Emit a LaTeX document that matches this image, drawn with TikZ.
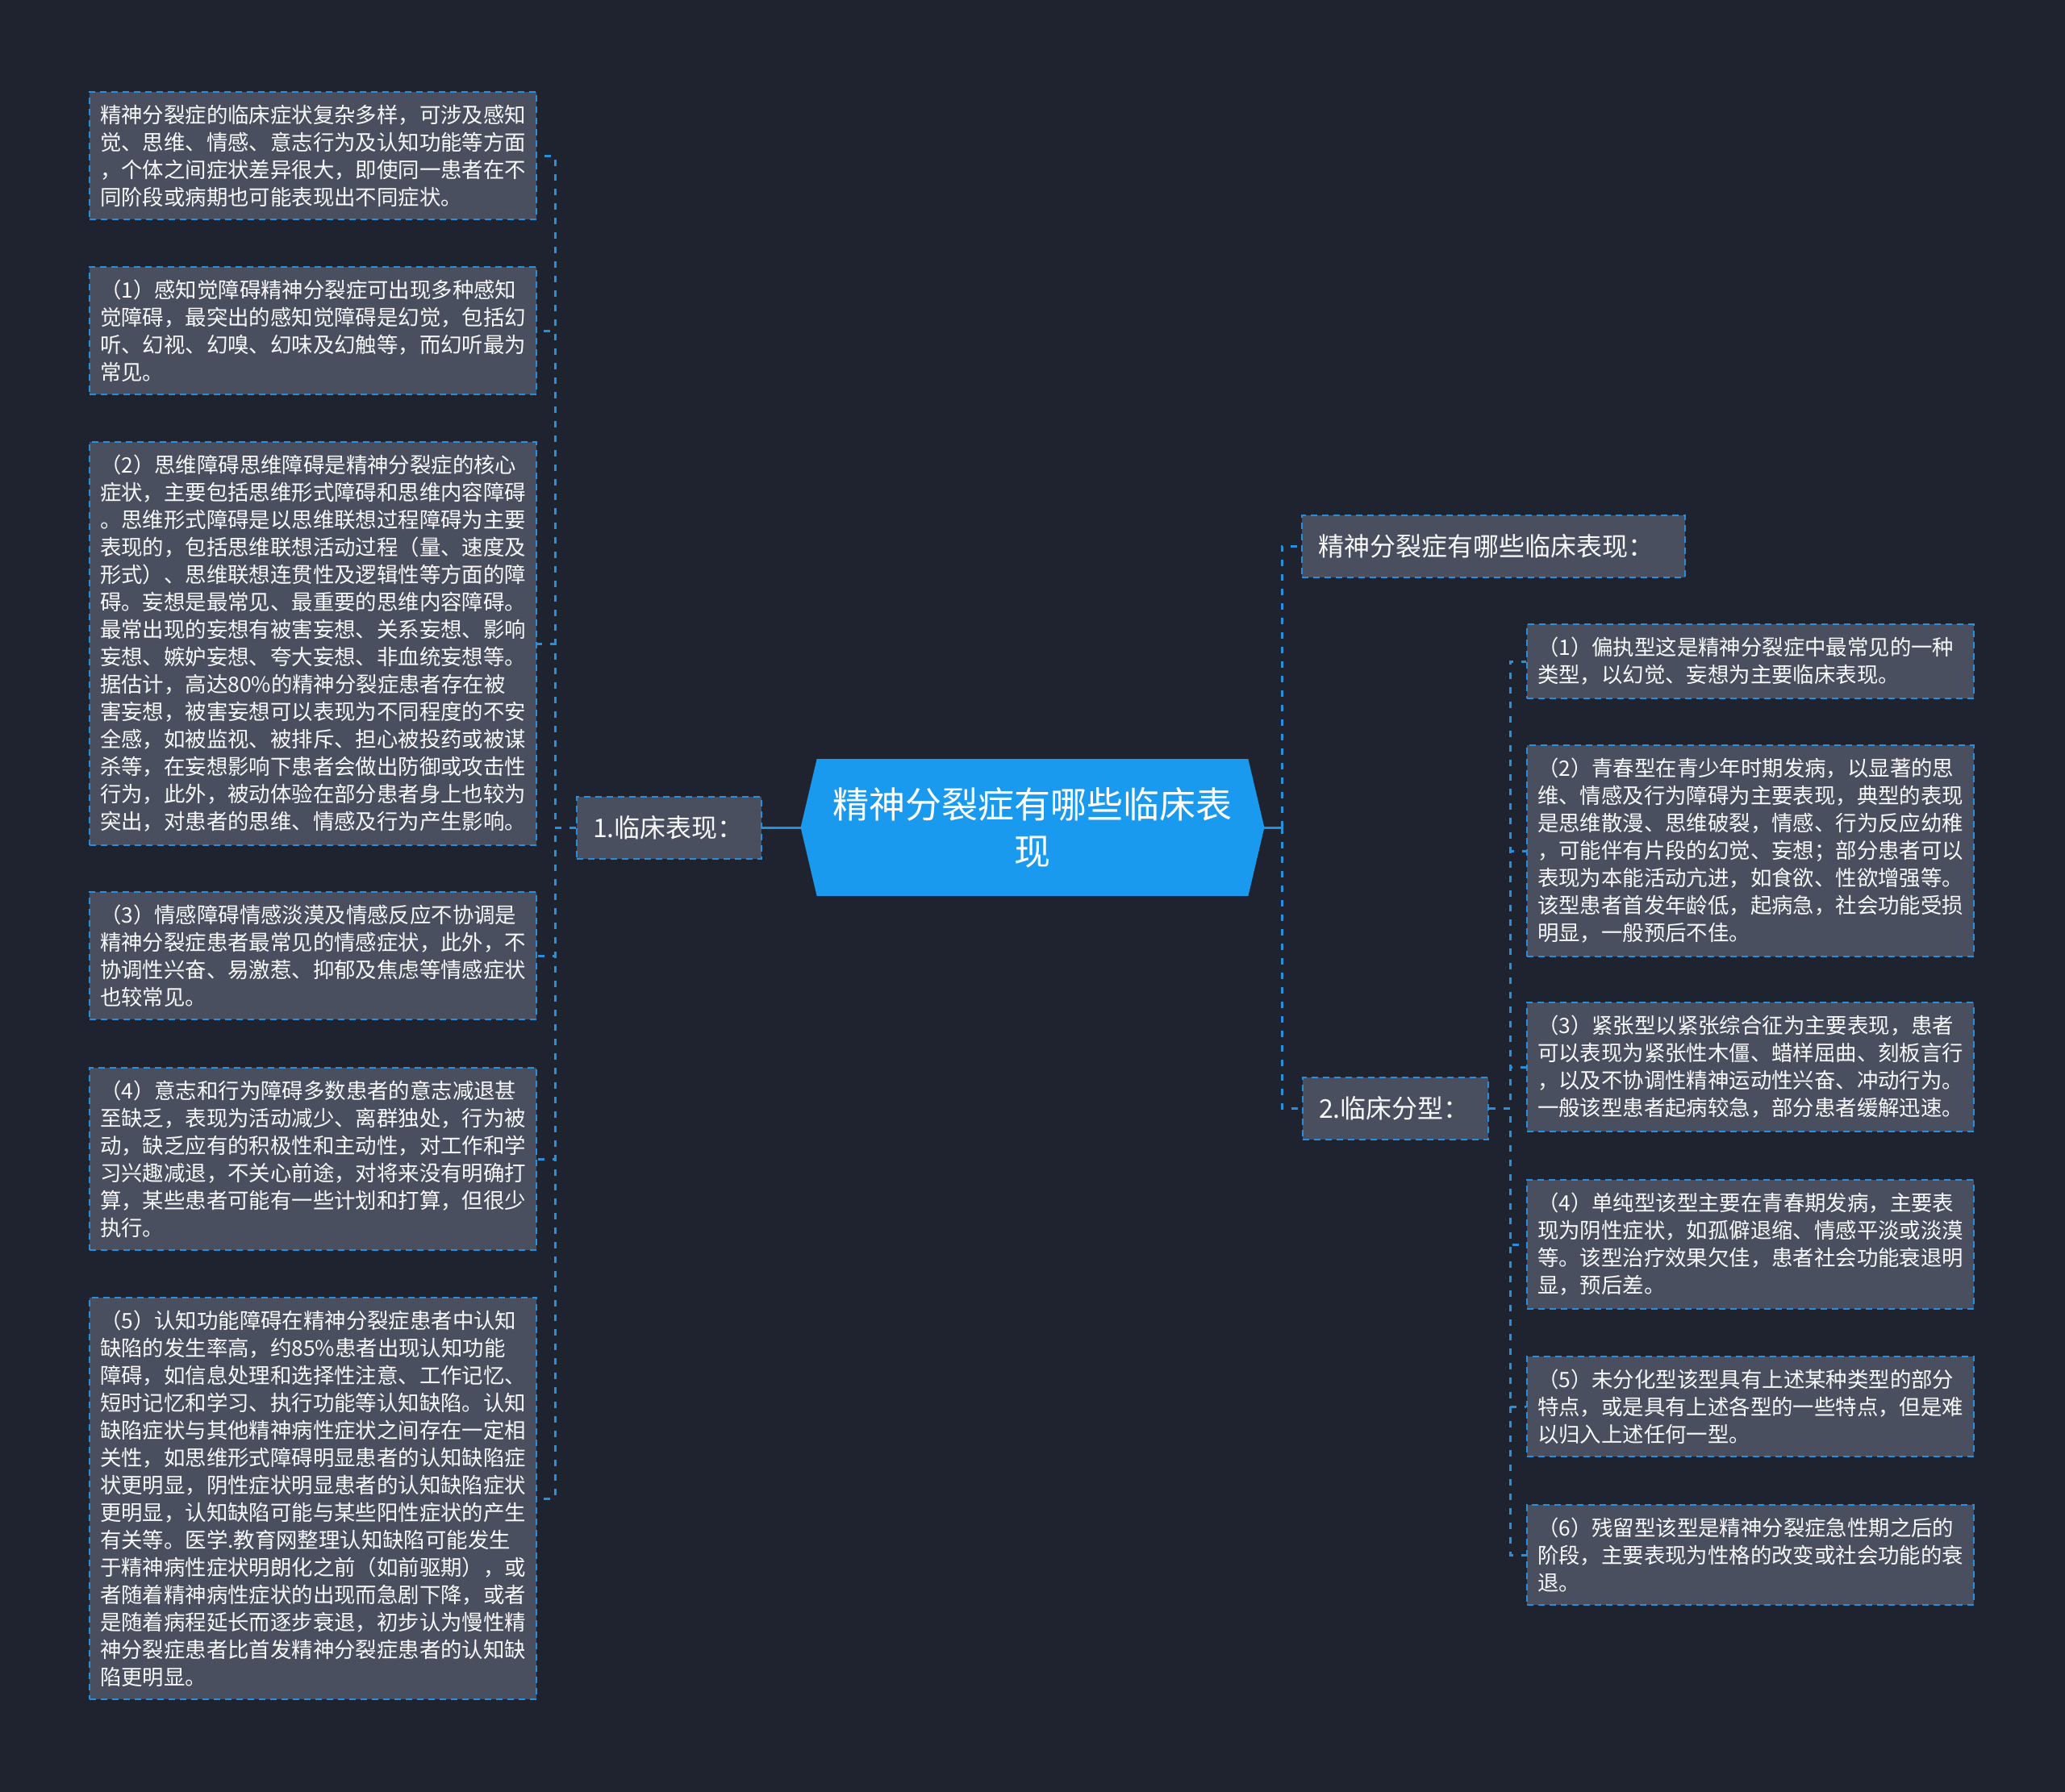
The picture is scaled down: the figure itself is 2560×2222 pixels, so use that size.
\documentclass[tikz,border=0pt]{standalone}
\usepackage{fontspec}
\setmainfont{Noto Sans CJK SC}
\usetikzlibrary{backgrounds}
\begin{document}
\begin{tikzpicture}[x=0.5pt,y=-0.5pt,
  leaf/.style={draw=linecolor,dash pattern=on 4pt off 3pt,line width=1pt,fill=boxcolor,text=textcolor,font=\fontsize{13.2pt}{17pt}\selectfont,align=left,text width=264pt,inner xsep=6.5pt,inner ysep=8pt},
  topic/.style={draw=linecolor,dash pattern=on 4pt off 3pt,line width=1pt,fill=boxcolor,text=textcolor,font=\fontsize{16pt}{20pt}\selectfont,align=left,inner xsep=10pt,minimum height=38.5pt},
  rootbox/.style={text=white,font=\fontsize{22.5pt}{29pt}\selectfont,align=center,minimum width=267pt,minimum height=84.5pt,inner sep=0pt},
  link/.style={draw=linecolor,line width=1.5pt,dash pattern=on 4pt off 5pt},
  rootlink/.style={draw=linecolor,line width=1.5pt}]
\definecolor{bgcolor}{RGB}{31,35,47}
\definecolor{boxcolor}{RGB}{73,79,94}
\definecolor{linecolor}{RGB}{38,143,222}
\definecolor{rootcolor}{RGB}{26,154,238}
\definecolor{textcolor}{RGB}{248,248,250}
\useasboundingbox (0,0) rectangle (2560,2222);
\node (root) [rootbox] at (1280,1026) {精神分裂症有哪些临床表\\现};
\node (sec1) [topic,text width=94.5pt] at (829.5,1026) {1.临床表现：};
\node (sec0) [topic,text width=217.5pt] at (1851.5,677) {精神分裂症有哪些临床表现：};
\node (sec2) [topic,text width=95pt] at (1730,1374) {2.临床分型：};
\node (a1) [leaf] at (388,193) {精神分裂症的临床症状复杂多样，可涉及感知\\觉、思维、情感、意志行为及认知功能等方面\\，个体之间症状差异很大，即使同一患者在不\\同阶段或病期也可能表现出不同症状。};
\node (a2) [leaf] at (388,410) {（1）感知觉障碍精神分裂症可出现多种感知\\觉障碍，最突出的感知觉障碍是幻觉，包括幻\\听、幻视、幻嗅、幻味及幻触等，而幻听最为\\常见。};
\node (a3) [leaf] at (388,798) {（2）思维障碍思维障碍是精神分裂症的核心\\症状，主要包括思维形式障碍和思维内容障碍\\。思维形式障碍是以思维联想过程障碍为主要\\表现的，包括思维联想活动过程（量、速度及\\形式）、思维联想连贯性及逻辑性等方面的障\\碍。妄想是最常见、最重要的思维内容障碍。\\最常出现的妄想有被害妄想、关系妄想、影响\\妄想、嫉妒妄想、夸大妄想、非血统妄想等。\\据估计，高达80\%的精神分裂症患者存在被\\害妄想，被害妄想可以表现为不同程度的不安\\全感，如被监视、被排斥、担心被投药或被谋\\杀等，在妄想影响下患者会做出防御或攻击性\\行为，此外，被动体验在部分患者身上也较为\\突出，对患者的思维、情感及行为产生影响。};
\node (a4) [leaf] at (388,1185) {（3）情感障碍情感淡漠及情感反应不协调是\\精神分裂症患者最常见的情感症状，此外，不\\协调性兴奋、易激惹、抑郁及焦虑等情感症状\\也较常见。};
\node (a5) [leaf] at (388,1437) {（4）意志和行为障碍多数患者的意志减退甚\\至缺乏，表现为活动减少、离群独处，行为被\\动，缺乏应有的积极性和主动性，对工作和学\\习兴趣减退，不关心前途，对将来没有明确打\\算，某些患者可能有一些计划和打算，但很少\\执行。};
\node (a6) [leaf] at (388,1858) {（5）认知功能障碍在精神分裂症患者中认知\\缺陷的发生率高，约85\%患者出现认知功能\\障碍，如信息处理和选择性注意、工作记忆、\\短时记忆和学习、执行功能等认知缺陷。认知\\缺陷症状与其他精神病性症状之间存在一定相\\关性，如思维形式障碍明显患者的认知缺陷症\\状更明显，阴性症状明显患者的认知缺陷症状\\更明显，认知缺陷可能与某些阳性症状的产生\\有关等。医学.教育网整理认知缺陷可能发生\\于精神病性症状明朗化之前（如前驱期），或\\者随着精神病性症状的出现而急剧下降，或者\\是随着病程延长而逐步衰退，初步认为慢性精\\神分裂症患者比首发精神分裂症患者的认知缺\\陷更明显。};
\node (b1) [leaf] at (2170,820) {（1）偏执型这是精神分裂症中最常见的一种\\类型，以幻觉、妄想为主要临床表现。};
\node (b2) [leaf] at (2170,1055) {（2）青春型在青少年时期发病，以显著的思\\维、情感及行为障碍为主要表现，典型的表现\\是思维散漫、思维破裂，情感、行为反应幼稚\\，可能伴有片段的幻觉、妄想；部分患者可以\\表现为本能活动亢进，如食欲、性欲增强等。\\该型患者首发年龄低，起病急，社会功能受损\\明显，一般预后不佳。};
\node (b3) [leaf] at (2170,1323) {（3）紧张型以紧张综合征为主要表现，患者\\可以表现为紧张性木僵、蜡样屈曲、刻板言行\\，以及不协调性精神运动性兴奋、冲动行为。\\一般该型患者起病较急，部分患者缓解迅速。};
\node (b4) [leaf] at (2170,1543) {（4）单纯型该型主要在青春期发病，主要表\\现为阴性症状，如孤僻退缩、情感平淡或淡漠\\等。该型治疗效果欠佳，患者社会功能衰退明\\显，预后差。};
\node (b5) [leaf] at (2170,1744) {（5）未分化型该型具有上述某种类型的部分\\特点，或是具有上述各型的一些特点，但是难\\以归入上述任何一型。};
\node (b6) [leaf] at (2170,1928) {（6）残留型该型是精神分裂症急性期之后的\\阶段，主要表现为性格的改变或社会功能的衰\\退。};
\begin{scope}[on background layer]
\fill[bgcolor] (0,0) rectangle (2560,2222);
\fill[rootcolor] (root.north west) -- (root.north east) -- ([xshift=10pt]root.east) -- (root.south east) -- (root.south west) -- ([xshift=-10pt]root.west) -- cycle;
\end{scope}
\draw[rootlink] (sec1.east) -- ([xshift=-10pt]root.west);
\draw[rootlink] ([xshift=10pt]root.east) -- ++(11pt,0) coordinate (rj);
\foreach \n in {sec0,sec2} \draw[link] (rj) |- (\n.west);
\foreach \n in {a1,a2,a3,a4,a5,a6} \draw[link] (sec1.west) -- ++(-13pt,0) |- (\n.east);
\foreach \n in {b1,b2,b3,b4,b5,b6} \draw[link] (sec2.east) -- ++(13pt,0) |- (\n.west);
\end{tikzpicture}
\end{document}
